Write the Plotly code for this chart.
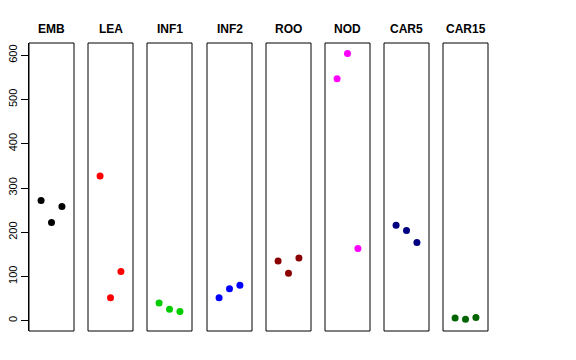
import plotly.graph_objects as go

groups = ["EMB", "LEA", "INF1", "INF2", "ROO", "NOD", "CAR5", "CAR15"]
colors = ["#000000", "#FF0000", "#00CD00", "#0000FF", "#8B0000", "#FF00FF", "#000080", "#006400"]
rep = [1, 2, 3]
values = {
    "EMB": [272, 222, 258],
    "LEA": [327, 52, 111],
    "INF1": [40, 26, 21],
    "INF2": [52, 72, 80],
    "ROO": [135, 107, 142],
    "NOD": [547, 604, 163],
    "CAR5": [216, 204, 177],
    "CAR15": [6, 3, 7],
}
yticks = [0, 100, 200, 300, 400, 500, 600]

# page body has an 8px margin, so the figure is sized to fit the 576x360 window
OFF = 8
W, H = 576 - OFF, 360 - OFF
ml, mr, mt, mb = 29 - OFF, 88, 43 - OFF, 29
pw = W - ml - mr
lefts = [x - OFF for x in [29, 88, 147, 207, 266, 325, 384, 443]]
pwidth = 45

fig = go.Figure()
layout = dict(
    width=W, height=H, showlegend=False,
    margin=dict(l=ml, r=mr, t=mt, b=mb, pad=0, autoexpand=False),
    paper_bgcolor="white", plot_bgcolor="white",
    font=dict(family="Liberation Sans, Arial, sans-serif", color="black"),
)
shapes = []
annotations = []
for i, g in enumerate(groups):
    ax = "" if i == 0 else str(i + 1)
    d0 = (lefts[i] - ml) / pw
    d1 = (lefts[i] + pwidth - ml) / pw
    fig.add_trace(go.Scatter(
        x=rep, y=values[g], mode="markers",
        marker=dict(color=colors[i], size=7, line=dict(width=0)),
        xaxis="x" + ax, yaxis="y" + ax, hoverinfo="skip",
    ))
    layout["xaxis" + ax] = dict(domain=[d0, d1], range=[-0.16, 4.16], automargin=False,
                                showticklabels=False, ticks="", showgrid=False,
                                zeroline=False, showline=False)
    yax = dict(range=[-23.3, 627.8], showgrid=False, zeroline=False, showline=False,
               anchor="x" + ax, automargin=False)
    if i == 0:
        yax.update(tickvals=yticks, ticktext=[str(v) for v in yticks], ticks="outside",
                   ticklen=7, tickwidth=1, tickcolor="black", tickangle=-90,
                   tickfont=dict(size=11, color="black"), showline=True,
                   linecolor="black", linewidth=1)
    else:
        yax.update(matches="y", showticklabels=False, ticks="")
    layout["yaxis" + ax] = yax
    shapes.append(dict(type="rect", xref=f"x{ax} domain", yref="y domain",
                       x0=0, x1=1, y0=0, y1=1, line=dict(color="black", width=1)))
    annotations.append(dict(text=f"<b>{g}</b>", xref=f"x{ax} domain", yref="paper",
                            x=0.5, y=1, yshift=5, xanchor="center", yanchor="bottom",
                            showarrow=False, font=dict(size=12, color="black")))
layout["shapes"] = shapes
layout["annotations"] = annotations
fig.update_layout(**layout)
fig.write_html("out.html")
